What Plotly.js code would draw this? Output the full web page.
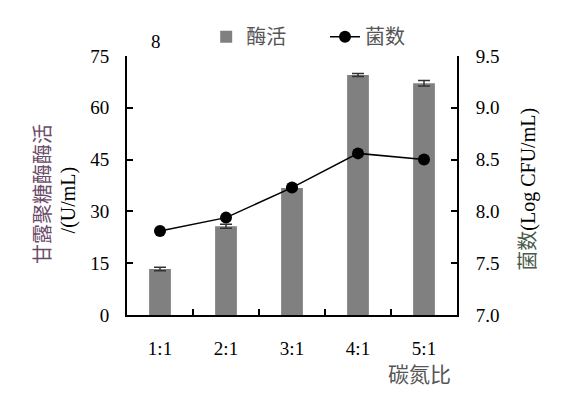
<!DOCTYPE html>
<html><head><meta charset="utf-8">
<script src="https://cdn.plot.ly/plotly-3.0.1.min.js"></script>
<style>html,body{margin:0;padding:0;background:#fff}#c{width:569px;height:395px}</style>
</head><body><div id="c"></div>
<script>
const categories = ["1:1", "2:1", "3:1", "4:1", "5:1"];
const enzymeActivity = [13.3, 25.7, 36.8, 69.5, 67.1];
const enzymeError = [0.5, 0.6, 0.3, 0.45, 0.8];
const bacteriaCount = [7.81, 7.94, 8.23, 8.56, 8.50];
const leftTicks = [0, 15, 30, 45, 60, 75];
const rightTicks = [7.0, 7.5, 8.0, 8.5, 9.0, 9.5];

const serif = "Liberation Serif, Times New Roman, serif";
const cjk = "Noto Sans CJK SC, sans-serif";

const traces = [
  {type: "bar", x: categories, y: enzymeActivity, name: "酶活", width: 0.33, legend: "legend",
   marker: {color: "#808080"},
   error_y: {type: "data", array: enzymeError, visible: true, color: "#333", thickness: 1.5, width: 6}},
  {type: "scatter", mode: "lines+markers", x: categories, y: bacteriaCount, name: "菌数", yaxis: "y2",
   legend: "legend2",
   line: {color: "#000", width: 1.5}, marker: {color: "#000", size: 12}}
];

const legFont = {family: cjk, size: 20, color: "#555"};
const layout = {
  width: 569, height: 395,
  margin: {l: 127, r: 112, t: 56, b: 80},
  paper_bgcolor: "#fff", plot_bgcolor: "#fff",
  showlegend: true,
  legend: {orientation: "h", x: 0.24, y: 1.15, xanchor: "left", yanchor: "top",
           font: legFont, bgcolor: "rgba(0,0,0,0)"},
  legend2: {orientation: "h", x: 0.60, y: 1.15, xanchor: "left", yanchor: "top",
           font: legFont, bgcolor: "rgba(0,0,0,0)"},
  xaxis: {type: "category", showline: true, linecolor: "#000", linewidth: 2,
          ticks: "inside", tickson: "boundaries", ticklen: 6, tickwidth: 2, tickcolor: "#000",
          ticklabelstandoff: 15, tickfont: {family: serif, size: 19, color: "#000"},
          showgrid: false, zeroline: false},
  yaxis: {range: [0, 75], tickvals: leftTicks, ticktext: leftTicks.map(String),
          showline: true, linecolor: "#000", linewidth: 2, ticks: "inside", ticklen: 6, tickwidth: 2,
          tickcolor: "#000", ticklabelstandoff: 12, tickfont: {family: serif, size: 19, color: "#000"},
          showgrid: false, zeroline: false},
  yaxis2: {range: [7.0, 9.5], overlaying: "y", side: "right", tickvals: rightTicks,
           ticktext: rightTicks.map(v => v.toFixed(1)),
           showline: true, linecolor: "#000", linewidth: 2, ticks: "inside", ticklen: 6, tickwidth: 2,
           tickcolor: "#000", ticklabelstandoff: 13, tickfont: {family: serif, size: 19, color: "#000"},
           showgrid: false, zeroline: false},
  annotations: [
    {xref: "paper", yref: "paper", x: -0.261, y: 0.467, xanchor: "center", yanchor: "middle",
     textangle: -90, showarrow: false, text: "甘露聚糖酶酶活",
     font: {size: 20, family: cjk, color: "#6a4a6a"}},
    {xref: "paper", yref: "paper", x: -0.176, y: 0.446, xanchor: "center", yanchor: "middle",
     textangle: -90, showarrow: false, text: "/(U/mL)",
     font: {size: 20, family: serif, color: "#000"}},
    {xref: "paper", yref: "paper", x: 1.21, y: 0.485, xanchor: "center", yanchor: "middle",
     textangle: -90, showarrow: false,
     text: "<span style='color:#4a5a4a'>菌数</span><span style='font-family:Liberation Serif;color:#000'>(Log CFU/mL)</span>",
     font: {size: 20, family: cjk, color: "#555"}},
    {xref: "paper", yref: "paper", x: 0.885, y: -0.225, xanchor: "center", yanchor: "middle",
     showarrow: false, text: "碳氮比", font: {size: 21, family: cjk, color: "#555"}},
    {xref: "paper", yref: "paper", x: 0.087, y: 1.055, xanchor: "center", yanchor: "middle",
     showarrow: false, text: "8", font: {size: 19, family: serif, color: "#000"}}
  ]
};

Plotly.newPlot("c", traces, layout, {displayModeBar: false, staticPlot: true});
</script></body></html>
